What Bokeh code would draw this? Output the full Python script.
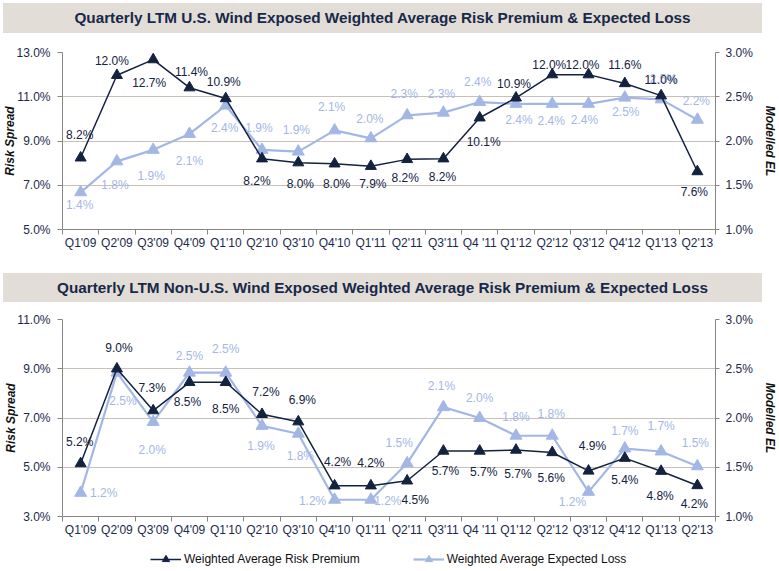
from bokeh.plotting import figure
from bokeh.models import (Range1d, LinearAxis, FixedTicker, PrintfTickFormatter,
                          CustomJSTickFormatter, ColumnDataSource, Legend, LegendItem, Div)
from bokeh.layouts import column
from bokeh.embed import file_html
from bokeh.resources import INLINE
from bokeh.core.properties import value

# ---------------- data ----------------
quarters = ["Q1'09", "Q2'09", "Q3'09", "Q4'09", "Q1'10", "Q2'10", "Q3'10", "Q4'10", "Q1'11",
            "Q2'11", "Q3'11", "Q4 '11", "Q1'12", "Q2'12", "Q3'12", "Q4'12", "Q1'13", "Q2'13"]

us_risk = [8.24, 11.97, 12.68, 11.41, 10.92, 8.2, 8.02, 7.97, 7.86,
           8.17, 8.2, 10.05, 10.95, 12.0, 12.0, 11.6, 11.05, 7.62]
us_el = [1.42, 1.77, 1.9, 2.08, 2.4, 1.9, 1.88, 2.12, 2.03,
         2.29, 2.32, 2.44, 2.42, 2.42, 2.42, 2.49, 2.47, 2.24]
us_risk_labels = ["8.2%", "12.0%", "12.7%", "11.4%", "10.9%", "8.2%", "8.0%", "8.0%", "7.9%",
                  "8.2%", "8.2%", "10.1%", "10.9%", "12.0%", "12.0%", "11.6%", "11.0%", "7.6%"]
us_el_labels = ["1.4%", "1.8%", "1.9%", "2.1%", "2.4%", "1.9%", "1.9%", "2.1%", "2.0%",
                "2.3%", "2.3%", "2.4%", "2.4%", "2.4%", "2.4%", "2.5%", "2.5%", "2.2%"]

nonus_risk = [5.15, 9.0, 7.3, 8.45, 8.45, 7.15, 6.85, 4.25, 4.25,
              4.45, 5.66, 5.66, 5.7, 5.6, 4.85, 5.37, 4.84, 4.26]
nonus_el = [1.24, 2.46, 1.96, 2.46, 2.46, 1.92, 1.84, 1.17, 1.17,
            1.54, 2.11, 2.0, 1.82, 1.82, 1.25, 1.69, 1.66, 1.51]
nonus_risk_labels = ["5.2%", "9.0%", "7.3%", "8.5%", "8.5%", "7.2%", "6.9%", "4.2%", "4.2%",
                     "4.5%", "5.7%", "5.7%", "5.7%", "5.6%", "4.9%", "5.4%", "4.8%", "4.2%"]
nonus_el_labels = ["1.2%", "2.5%", "2.0%", "2.5%", "2.5%", "1.9%", "1.8%", "1.2%", "1.2%",
                   "1.5%", "2.1%", "2.0%", "1.8%", "1.8%", "1.2%", "1.7%", "1.7%", "1.5%"]

us_risk_ticks = [5, 7, 9, 11, 13]
nonus_risk_ticks = [3, 5, 7, 9, 11]
el_ticks = [1.0, 1.5, 2.0, 2.5, 3.0]

titles = ["Quarterly LTM U.S. Wind Exposed Weighted Average Risk Premium & Expected Loss",
          "Quarterly LTM Non-U.S. Wind Exposed Weighted Average Risk Premium & Expected Loss"]
series_names = ["Weighted Average Risk Premium", "Weighted Average Expected Loss"]
axis_titles = ["Risk Spread", "Modelled EL"]

# ---------------- label placement (screen px, down positive) ----------------
us_risk_off = [(-1, -23), (-5, -14), (-4, 23), (2, -16), (-2, -17), (-5, 22), (2, 21), (2, 20), (2, 18),
               (-2, 19), (-1, 18), (4, 24), (-2, -14), (-3, -10), (-6, -10), (0, -18), (0, -16), (-3, 20)]
us_el_off = [(-1, 13), (-2, 24), (-2, 26), (0, 27), (-1, 22), (-3, -22), (-2, -22), (-3, -23), (-1, -19),
             (-3, -21), (-2, -19), (-2, -20), (3, 16), (-1, 17), (-4, 16), (1, 14), (2, -20), (-1, -19)]
nonus_risk_off = [(-1, -22), (2, -21), (-1, -23), (-2, 20), (0, 27), (4, -22), (4, -22), (3, -24), (0, -23),
                  (8, 19), (2, 20), (4, 21), (2, 24), (-1, 26), (4, -25), (0, 22), (-1, 25), (-3, 19)]
nonus_el_off = [(23, 0), (6, 28), (-1, 28), (0, -17), (0, -24), (-1, 20), (2, 22), (-22, 1), (17, 1),
                (-8, -20), (-2, -21), (0, -20), (0, -19), (-1, -22), (-16, 10), (0, -18), (0, -25), (-2, -23)]

DARK = "#12223f"
LIGHT = "#a3b7e5"
TICK_COLOR = "#1b2a4b"
GRID = "#c9c0b8"
AXIS = "#868686"
FONT = "Liberation Sans"

W = 779


def banner(text, h, top):
    return Div(text=text, width=759, height=h, margin=(top, 0, 0, 3),
               styles={"background-color": "#e3ddd7", "color": "#17294a",
                       "font-family": "'Liberation Sans', Arial, sans-serif",
                       "font-weight": "bold", "font-size": "15.3px",
                       "text-align": "center", "line-height": f"{h}px",
                       "white-space": "nowrap"})


def style_axis(ax, tick_out, standoff):
    ax.major_tick_out = tick_out
    ax.major_tick_in = 0
    ax.minor_tick_line_color = None
    ax.axis_line_color = AXIS
    ax.major_tick_line_color = AXIS
    ax.major_label_standoff = standoff
    ax.major_label_text_font = FONT
    ax.major_label_text_font_size = "12px"
    ax.major_label_text_color = TICK_COLOR
    ax.axis_label_text_font = FONT
    ax.axis_label_text_font_size = "12px"
    ax.axis_label_text_font_style = "bold italic"
    ax.axis_label_text_color = "#111111"


def add_series(p, el_src, rk_src):
    l_el = p.line("x", "y", source=el_src, y_range_name="el", line_color=LIGHT, line_width=2.2)
    s_el = p.scatter("x", "y", source=el_src, y_range_name="el", marker="triangle",
                     size=12, fill_color=LIGHT, line_color=LIGHT)
    l_rk = p.line("x", "y", source=rk_src, line_color=DARK, line_width=1.5)
    s_rk = p.scatter("x", "y", source=rk_src, marker="triangle", size=11,
                     fill_color=DARK, line_color=DARK)
    return (l_rk, s_rk), (l_el, s_el)


def make_chart(h, top, bottom, yticks, risk, el, risk_lab, el_lab, risk_off, el_off):
    n = len(quarters)
    xs = [i + 0.5 for i in range(n)]
    p = figure(width=W, height=h, x_range=Range1d(0, n), y_range=Range1d(yticks[0], yticks[-1]),
               output_backend="svg", toolbar_location=None,
               min_border_left=57, min_border_right=59, min_border_top=top,
               min_border_bottom=bottom, outline_line_color=None,
               background_fill_color="white", border_fill_color="white")
    p.extra_y_ranges = {"el": Range1d(el_ticks[0], el_ticks[-1])}

    # x axis: labels at category centres, tick marks at category boundaries
    xa = p.xaxis[0]
    xa.ticker = FixedTicker(ticks=xs, minor_ticks=list(range(n + 1)))
    xa.formatter = CustomJSTickFormatter(args=dict(labels=quarters),
                                         code="return labels[Math.floor(tick)];")
    style_axis(xa, 0, 1)
    xa.minor_tick_out = 5
    xa.minor_tick_in = 0
    xa.minor_tick_line_color = AXIS

    # left axis
    ya = p.yaxis[0]
    ya.ticker = FixedTicker(ticks=yticks)
    ya.formatter = PrintfTickFormatter(format="%.1f%%")
    style_axis(ya, 5, 7)
    ya.axis_label = axis_titles[0]
    ya.axis_label_standoff = -4

    # right axis
    ra = LinearAxis(y_range_name="el", ticker=FixedTicker(ticks=el_ticks),
                    formatter=PrintfTickFormatter(format="%.1f%%"))
    style_axis(ra, 4, 6)
    ra.axis_label = axis_titles[1]
    ra.axis_label_standoff = 7
    p.add_layout(ra, "right")

    p.xgrid.visible = False
    p.ygrid.grid_line_color = GRID
    p.ygrid.grid_line_width = 1

    el_src = ColumnDataSource(dict(x=xs, y=el, lab=el_lab,
                                   dx=[o[0] for o in el_off], dy=[o[1] for o in el_off]))
    rk_src = ColumnDataSource(dict(x=xs, y=risk, lab=risk_lab,
                                   dx=[o[0] for o in risk_off], dy=[o[1] for o in risk_off]))

    add_series(p, el_src, rk_src)

    p.text("x", "y", text="lab", source=el_src, y_range_name="el", x_offset="dx", y_offset="dy",
           text_font=value(FONT), text_font_size="12px", text_align="center",
           text_baseline="middle", text_color=LIGHT)
    p.text("x", "y", text="lab", source=rk_src, x_offset="dx", y_offset="dy",
           text_font=value(FONT), text_font_size="12px", text_align="center",
           text_baseline="middle", text_color=DARK)
    return p, el_src, rk_src


p1, _, _ = make_chart(240, 19, 44, us_risk_ticks, us_risk, us_el,
                      us_risk_labels, us_el_labels, us_risk_off, us_el_off)
p2, el_src2, rk_src2 = make_chart(243, 17, 29, nonus_risk_ticks, nonus_risk, nonus_el,
                                  nonus_risk_labels, nonus_el_labels, nonus_risk_off, nonus_el_off)

# legend strip: same series styles, viewed through ranges that show none of the data
pl = figure(width=W, height=25, x_range=Range1d(-100, -99), y_range=Range1d(-100, -99),
            output_backend="svg", toolbar_location=None, x_axis_location=None,
            y_axis_location=None, min_border=0, outline_line_color=None,
            background_fill_color="white", border_fill_color="white")
pl.extra_y_ranges = {"el": Range1d(-100, -99)}
pl.grid.visible = False
rk, el = add_series(pl, el_src2, rk_src2)
legend = Legend(items=[LegendItem(label=series_names[0], renderers=list(rk)),
                       LegendItem(label=series_names[1], renderers=list(el))],
                location=(88, 2), orientation="horizontal", padding=0, margin=0, spacing=53,
                border_line_color=None, background_fill_alpha=0,
                glyph_width=31, glyph_height=18, label_height=18, label_standoff=3,
                label_text_font=FONT, label_text_font_size="12px", label_text_color="#111111")
pl.add_layout(legend, "center")

layout = column(banner(titles[0], 30, 3), p1, banner(titles[1], 29, 0), p2, pl, spacing=0)
open("out.html", "w").write(file_html(layout, INLINE))
